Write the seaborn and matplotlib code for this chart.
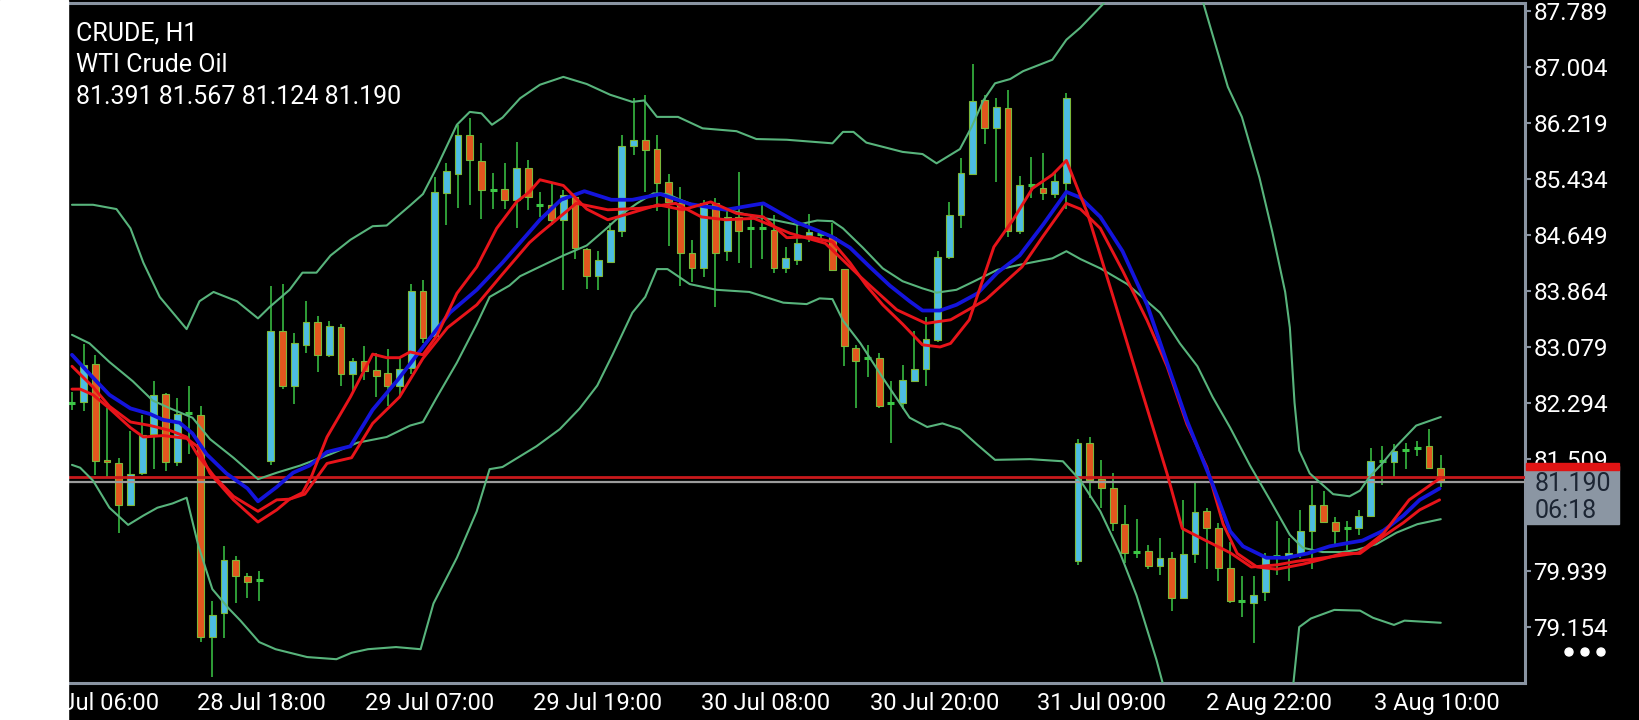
import numpy as np
import pandas as pd
import seaborn as sns
import matplotlib.pyplot as plt
from matplotlib.patches import Rectangle, Circle

# ---- data --------------------------------------------------------------
symbol = "CRUDE, H1"
description = "WTI Crude Oil"

opens = [82.29, 82.31, 82.84, 81.50, 81.46, 80.87, 81.31, 81.86, 82.42, 81.47,
         82.16, 82.13, 79.02, 79.36, 80.10, 79.87, 79.82, 81.49, 83.31, 82.53,
         83.11, 83.43, 82.97, 83.36, 82.70, 82.89, 82.76, 82.71, 82.54, 82.78,
         83.86, 83.23, 85.23, 85.50, 86.05, 85.68, 85.28, 85.29, 85.13, 85.58,
         85.06, 85.07, 84.85, 85.18, 84.45, 84.08, 84.27, 84.70, 85.89, 85.97,
         85.85, 85.39, 85.09, 84.40, 84.19, 85.09, 84.42, 84.90, 84.75, 84.74,
         84.72, 84.18, 84.30, 84.65, 84.66, 84.62, 84.17, 83.07, 82.92, 82.93,
         82.29, 82.29, 82.61, 82.77, 83.18, 84.34, 84.92, 85.50, 86.53, 86.14,
         86.43, 84.70, 85.35, 85.31, 85.22, 85.38, 80.09, 81.73, 81.23, 81.11,
         80.60, 80.21, 80.23, 80.02, 80.13, 79.57, 80.18, 80.78, 80.55, 79.99,
         79.52, 79.49, 79.65, 80.15, 80.15, 80.19, 80.51, 80.87, 80.63, 80.54,
         80.55, 80.71, 81.49, 81.47, 81.64, 81.67, 81.70, 81.391]
highs = [82.45, 83.12, 82.97, 82.22, 81.52, 81.90, 82.13, 82.60, 82.44, 82.36,
         82.53, 82.25, 79.52, 80.30, 80.16, 79.92, 79.95, 83.94, 83.96, 83.27,
         83.72, 83.51, 83.44, 83.40, 82.93, 83.10, 82.99, 83.05, 82.92, 83.96,
         84.02, 85.46, 85.66, 86.19, 86.29, 85.93, 85.52, 85.65, 85.95, 85.69,
         85.25, 85.36, 85.28, 85.22, 84.47, 84.42, 84.82, 86.05, 86.57, 86.61,
         86.05, 85.50, 85.32, 84.58, 85.14, 85.17, 85.03, 85.53, 84.93, 85.06,
         84.93, 84.48, 84.79, 84.94, 84.70, 84.82, 84.17, 83.11, 83.11, 82.99,
         82.60, 82.83, 83.30, 83.50, 84.42, 85.11, 85.73, 87.04, 86.61, 86.57,
         86.67, 85.47, 85.74, 85.79, 85.54, 86.63, 81.79, 81.82, 81.50, 81.31,
         80.87, 80.67, 80.31, 80.40, 80.21, 80.94, 81.18, 80.83, 80.61, 80.35,
         79.87, 79.87, 80.19, 80.64, 80.40, 80.80, 81.15, 81.07, 80.70, 80.64,
         80.80, 81.66, 81.69, 81.72, 81.74, 81.77, 81.93, 81.567]
lows = [82.20, 82.18, 81.29, 81.26, 80.48, 80.86, 81.29, 81.37, 81.34, 81.42,
        81.58, 78.95, 78.46, 79.01, 79.49, 79.57, 79.52, 81.43, 82.49, 82.28,
        83.00, 82.73, 82.94, 82.54, 82.46, 82.62, 82.38, 82.25, 82.38, 82.70,
        83.13, 83.19, 84.79, 85.02, 85.06, 84.87, 85.01, 85.01, 84.75, 85.00,
        84.90, 84.79, 83.88, 84.31, 83.89, 83.88, 84.26, 84.62, 85.76, 85.25,
        84.98, 84.50, 83.94, 83.99, 84.06, 83.64, 84.28, 84.25, 84.18, 84.31,
        84.12, 84.11, 84.23, 84.55, 84.58, 84.15, 82.81, 82.22, 82.66, 82.23,
        81.74, 82.21, 82.60, 82.53, 83.15, 84.31, 84.74, 85.49, 85.92, 85.39,
        84.62, 84.66, 85.17, 85.14, 85.17, 85.01, 80.03, 80.96, 80.83, 80.51,
        80.06, 80.13, 79.97, 79.89, 79.38, 79.55, 80.05, 79.97, 79.81, 79.49,
        79.30, 78.93, 79.52, 79.89, 79.81, 80.13, 79.97, 80.62, 80.32, 80.24,
        80.45, 80.70, 81.15, 81.26, 81.37, 81.55, 81.37, 81.124]
closes = [82.29, 82.83, 81.49, 81.47, 80.87, 81.30, 81.85, 82.41, 81.47, 82.14,
          82.16, 79.02, 79.33, 80.10, 79.87, 79.79, 79.82, 83.31, 82.53, 83.13,
          83.43, 82.97, 83.37, 82.70, 82.89, 82.75, 82.68, 82.54, 82.77, 83.86,
          83.20, 85.25, 85.54, 86.05, 85.69, 85.28, 85.28, 85.14, 85.58, 85.18,
          85.06, 84.85, 85.20, 84.46, 84.08, 84.30, 84.72, 85.89, 85.98, 85.83,
          85.38, 85.11, 84.40, 84.18, 85.10, 84.40, 84.90, 84.71, 84.75, 84.74,
          84.18, 84.32, 84.54, 84.69, 84.66, 84.16, 83.09, 82.88, 82.92, 82.26,
          82.29, 82.62, 82.77, 83.19, 84.34, 84.93, 85.52, 86.52, 86.15, 86.44,
          84.70, 85.35, 85.35, 85.23, 85.40, 86.57, 81.74, 81.22, 81.11, 80.62,
          80.20, 80.21, 80.01, 80.12, 79.57, 80.18, 80.77, 80.55, 79.99, 79.53,
          79.52, 79.61, 80.15, 80.15, 80.20, 80.50, 80.87, 80.63, 80.51, 80.54,
          80.71, 81.49, 81.49, 81.63, 81.64, 81.67, 81.38, 81.190]

# indicator lines as (bar, price) readings
bb_upper = [(0, 85.07), (1.8, 85.07), (3.8, 85.01), (5.0, 84.74), (6.1, 84.26),
            (7.5, 83.78), (9.8, 83.33), (10.9, 83.72), (12.1, 83.85), (14.1, 83.72),
            (15.9, 83.48), (16.9, 83.64), (18.6, 83.88), (19.7, 84.12), (20.9, 84.12),
            (22.1, 84.36), (23.8, 84.58), (25.7, 84.77), (26.9, 84.78), (28.9, 85.06),
            (30.0, 85.22), (31.2, 85.60), (32.9, 86.19), (34.0, 86.37), (35.0, 86.35),
            (35.9, 86.19), (36.8, 86.29), (38.3, 86.56), (40.0, 86.75), (42.0, 86.86),
            (44.0, 86.76), (46.0, 86.61), (47.9, 86.51), (48.9, 86.53), (50.0, 86.30),
            (51.8, 86.30), (53.9, 86.14), (56.8, 86.10), (58.5, 85.99), (61.1, 85.98),
            (65.0, 85.93), (65.9, 86.09), (66.8, 86.09), (67.9, 85.94), (71.0, 85.81),
            (72.7, 85.78), (73.9, 85.65), (75.9, 85.85), (76.9, 86.16), (77.9, 86.53),
            (78.9, 86.77), (80.2, 86.83), (81.3, 86.94), (83.8, 87.10), (85.0, 87.38),
            (86.2, 87.55), (88.2, 87.89), (91.0, 88.6), (95.0, 88.8), (96.6, 87.95),
            (98.8, 86.72), (100.0, 86.30), (101.5, 85.45), (102.6, 84.69), (103.7, 83.85),
            (104.1, 83.35), (104.5, 82.30), (104.9, 81.63), (105.8, 81.31), (107.8, 81.02),
            (109.2, 80.99), (110.1, 81.07), (110.9, 81.26), (112.0, 81.45), (113.2, 81.69),
            (114.9, 81.98), (117.0, 82.10)]
bb_middle = [(0, 83.25), (1.5, 83.13), (3.2, 82.87), (5.2, 82.60), (6.9, 82.33),
             (8.4, 82.22), (10.3, 82.09), (11.8, 81.79), (13.8, 81.53), (15.9, 81.23),
             (17.5, 81.32), (19.5, 81.42), (22.1, 81.58), (24.4, 81.74), (26.9, 81.82),
             (28.9, 81.98), (30.0, 82.03), (31.2, 82.38), (32.9, 82.86), (34.6, 83.40),
             (35.7, 83.78), (37.4, 83.94), (38.3, 84.07), (39.7, 84.18), (42.0, 84.36),
             (44.0, 84.50), (45.7, 84.74), (47.1, 84.95), (48.3, 85.09), (49.7, 85.23),
             (50.9, 85.22), (52.0, 85.14), (53.1, 85.07), (55.4, 85.03), (57.7, 84.93),
             (59.9, 84.86), (62.0, 84.79), (63.7, 84.85), (65.0, 84.84), (65.9, 84.74),
             (67.6, 84.47), (69.3, 84.18), (71.0, 84.00), (72.7, 83.90), (73.9, 83.84),
             (75.6, 83.88), (77.0, 83.99), (79.1, 84.16), (81.0, 84.23), (83.8, 84.32),
             (85.0, 84.42), (86.2, 84.31), (87.9, 84.18), (90.2, 83.96), (93.0, 83.56),
             (94.7, 83.13), (96.2, 82.81), (97.5, 82.38), (99.0, 81.95), (100.7, 81.42),
             (102.4, 80.94), (104.1, 80.45), (105.2, 80.27), (106.9, 80.21), (108.6, 80.21),
             (109.8, 80.24), (111.5, 80.32), (113.2, 80.48), (115.0, 80.60), (117.0, 80.67)]
bb_lower = [(0, 81.43), (0.7, 81.39), (1.8, 81.21), (3.2, 80.83), (4.8, 80.59),
            (6.1, 80.72), (7.3, 80.83), (8.6, 80.89), (9.8, 80.97), (10.8, 80.30),
            (12.0, 79.69), (13.4, 79.42), (14.4, 79.25), (16.0, 78.95), (17.4, 78.85),
            (20.1, 78.74), (22.6, 78.71), (23.9, 78.80), (25.3, 78.85), (27.7, 78.88),
            (29.8, 78.85), (30.9, 79.49), (32.9, 80.13), (34.6, 80.78), (35.7, 81.37),
            (36.8, 81.40), (38.3, 81.55), (39.7, 81.69), (41.7, 81.93), (43.4, 82.22),
            (44.9, 82.54), (46.2, 82.97), (47.9, 83.56), (49.0, 83.78), (50.0, 84.17),
            (50.9, 84.17), (52.8, 83.96), (55.1, 83.88), (57.9, 83.85), (60.8, 83.70),
            (62.8, 83.68), (63.9, 83.76), (65.0, 83.75), (65.9, 83.45), (67.4, 83.13),
            (69.3, 82.65), (71.6, 82.09), (73.1, 81.96), (74.4, 82.01), (75.9, 81.93),
            (77.4, 81.71), (78.9, 81.50), (81.9, 81.51), (84.7, 81.48), (86.2, 81.21),
            (87.9, 80.78), (89.6, 80.19), (91.0, 79.60), (92.7, 78.70), (94.5, 77.6),
            (103.5, 77.4), (104.4, 78.37), (104.9, 79.16), (105.9, 79.28), (107.9, 79.40),
            (110.1, 79.39), (111.2, 79.29), (113.0, 79.19), (113.9, 79.25), (117.0, 79.22)]
ma_blue = [(0, 82.97), (1.8, 82.65), (3.2, 82.41), (5.0, 82.22), (6.7, 82.14),
           (7.8, 82.06), (9.2, 82.02), (10.3, 81.87), (11.5, 81.58), (13.2, 81.31),
           (15.0, 81.10), (15.9, 80.92), (17.5, 81.12), (18.9, 81.32), (20.3, 81.42),
           (21.8, 81.61), (23.8, 81.69), (25.7, 82.20), (28.0, 82.65), (30.0, 83.08),
           (32.3, 83.56), (34.6, 83.88), (36.8, 84.26), (39.1, 84.69), (40.0, 84.86),
           (41.8, 85.14), (43.8, 85.26), (46.1, 85.14), (47.9, 85.14), (50.3, 85.22),
           (52.8, 85.08), (55.9, 85.00), (59.1, 85.09), (62.0, 84.82), (63.7, 84.71),
           (65.0, 84.62), (66.5, 84.47), (68.2, 84.20), (69.9, 83.94), (71.6, 83.72),
           (72.7, 83.59), (74.2, 83.59), (75.6, 83.67), (77.4, 83.83), (79.1, 84.12),
           (81.0, 84.36), (83.0, 84.79), (85.0, 85.25), (86.2, 85.17), (87.9, 84.90),
           (89.8, 84.42), (91.9, 83.67), (93.6, 82.86), (95.3, 82.05), (97.4, 81.20),
           (99.0, 80.50), (100.1, 80.29), (102.1, 80.13), (103.8, 80.13), (105.6, 80.19),
           (107.5, 80.29), (109.2, 80.34), (110.3, 80.37), (112.1, 80.51), (113.8, 80.72),
           (115.2, 80.94), (116.9, 81.10)]
ma_red_slow = [(0, 82.81), (1.8, 82.52), (3.2, 82.25), (5.0, 82.03), (6.7, 81.98),
               (8.4, 81.91), (9.8, 81.82), (10.7, 81.58), (12.1, 81.28), (13.8, 80.99),
               (15.9, 80.78), (17.5, 80.94), (18.6, 80.95), (19.9, 81.02), (21.8, 81.45),
               (23.9, 81.53), (25.7, 82.01), (28.0, 82.38), (30.0, 82.92), (32.1, 83.35),
               (34.6, 83.67), (36.8, 84.10), (39.1, 84.54), (40.0, 84.67), (43.1, 85.09),
               (45.8, 85.00), (48.5, 85.02), (51.6, 85.09), (53.8, 84.90), (55.9, 84.86),
               (58.3, 84.88), (61.4, 84.67), (64.4, 84.53), (67.4, 84.06), (70.5, 83.60),
               (73.0, 83.41), (75.1, 83.46), (78.1, 83.74), (81.2, 84.20), (83.0, 84.63),
               (85.0, 85.09), (86.2, 85.01), (87.9, 84.74), (89.8, 84.15), (91.9, 83.45),
               (93.6, 82.81), (95.3, 82.00), (97.0, 81.40), (98.4, 80.60), (99.6, 80.19),
               (101.3, 80.00), (103.0, 79.97), (105.2, 80.04), (106.9, 80.11), (108.6, 80.19),
               (110.1, 80.19), (112.1, 80.43), (113.8, 80.62), (115.2, 80.80), (116.9, 80.94)]
ma_red_fast = [(0, 82.49), (0.7, 82.49), (1.8, 82.41), (3.2, 82.22), (5.0, 81.95),
               (6.1, 81.82), (7.8, 81.84), (9.8, 81.80), (10.7, 81.69), (11.8, 81.31),
               (13.8, 80.94), (15.9, 80.63), (17.5, 80.80), (18.6, 80.95), (19.7, 81.04),
               (20.5, 81.28), (21.8, 81.82), (23.8, 82.38), (25.7, 82.98), (26.9, 82.93),
               (28.0, 82.93), (28.9, 83.01), (30.0, 82.97), (31.2, 83.24), (32.9, 83.83),
               (34.6, 84.20), (36.3, 84.74), (38.0, 85.11), (39.1, 85.25), (40.0, 85.42),
               (42.0, 85.34), (44.0, 85.01), (45.8, 84.86), (47.7, 84.95), (50.1, 85.07),
               (52.2, 85.00), (54.6, 85.11), (56.8, 84.95), (59.1, 84.90), (61.1, 84.61),
               (63.1, 84.62), (65.0, 84.55), (66.5, 84.26), (67.9, 83.94), (69.3, 83.67),
               (71.0, 83.40), (72.7, 83.11), (74.2, 83.08), (75.1, 83.13), (76.7, 83.46),
               (78.8, 84.48), (80.4, 84.85), (82.1, 85.30), (83.8, 85.49), (85.0, 85.69),
               (86.8, 84.95), (89.0, 83.78), (91.3, 82.54), (93.6, 81.31), (94.9, 80.54),
               (96.8, 80.38), (99.0, 80.20), (100.8, 80.00), (103.0, 80.03), (104.7, 80.08),
               (107.5, 80.14), (110.0, 80.20), (112.1, 80.47), (114.3, 80.94), (117.0, 81.25)]

bid = 81.190
ask = 81.26
time_left = "06:18"

# 80.724 sits under the price box in the app, so it is not labelled
price_ticks = [87.789, 87.004, 86.219, 85.434, 84.649, 83.864, 83.079,
               82.294, 81.509, 79.939, 79.154]
time_labels = ["28 Jul 06:00", "28 Jul 18:00", "29 Jul 07:00", "29 Jul 19:00",
               "30 Jul 08:00", "30 Jul 20:00", "31 Jul 09:00", "2 Aug 22:00",
               "3 Aug 10:00"]
time_bars = [1.9, 16.2, 30.6, 44.9, 59.3, 73.7, 88.0, 102.3, 116.7]

# ---- style ---------------------------------------------------------------
sns.set_style("dark", {"axes.facecolor": "black", "figure.facecolor": "black"})
plt.rcParams["font.family"] = ["Roboto", "DejaVu Sans"]

BULL = "#4cbce2"
BEAR = "#e2561e"
WICK = "#3cc846"
EDGE = "#7cb83a"
BAND = "#58b47c"
FRAME = "#8a94a2"

W, H = 1640, 720
fig = plt.figure(figsize=(W / 100, H / 100), dpi=100, facecolor="black")
ax = fig.add_axes([68 / W, 37 / H, 1457 / W, 680 / H])
ax.set_facecolor("black")

candles = pd.DataFrame({"open": opens, "high": highs, "low": lows, "close": closes})
candles["bar"] = np.arange(len(candles))
up = candles[candles.close > candles.open]
down = candles[candles.close < candles.open]
flat = candles[candles.close == candles.open]

ax.vlines(candles.bar, candles.low, candles.high, color=WICK, lw=1.1, zorder=2)
ax.bar(up.bar, up.close - up.open, bottom=up.open, width=0.58,
       color=BULL, edgecolor=EDGE, lw=0.8, zorder=3)
ax.bar(down.bar, down.open - down.close, bottom=down.close, width=0.58,
       color=BEAR, edgecolor=EDGE, lw=0.8, zorder=3)
ax.hlines(flat.open, flat.bar - 0.3, flat.bar + 0.3, color=WICK, lw=2.2, zorder=3)

ax.axhline(ask, color="#c8191c", lw=2.0, zorder=4)
ax.axhline(bid, color="#9c9c9c", lw=1.6, zorder=4)

lines = [(bb_upper, BAND, 1.5), (bb_middle, BAND, 1.5), (bb_lower, BAND, 1.5),
         (ma_red_slow, "#e8141a", 2.1), (ma_blue, "#1414dc", 2.7),
         (ma_red_fast, "#e8141a", 2.1)]
for pts, col, lw in lines:
    df = pd.DataFrame(pts, columns=["bar", "price"])
    sns.lineplot(data=df, x="bar", y="price", ax=ax, color=col, lw=lw,
                 sort=False, estimator=None, zorder=5)

ax.set_xlim(-0.34, 124.2)
ax.set_ylim(78.377, 87.894)
ax.set_xlabel("")
ax.set_ylabel("")
ax.grid(False)

for side in ["top", "right", "bottom"]:
    ax.spines[side].set_color(FRAME)
    ax.spines[side].set_linewidth(2.2)
    ax.spines[side].set_visible(True)
ax.spines["left"].set_visible(False)

ax.yaxis.tick_right()
ax.set_yticks(price_ticks, [f"{p:.3f}" for p in price_ticks])
ax.set_xticks(time_bars, time_labels)
ax.tick_params(axis="y", colors=FRAME, labelcolor="white", labelsize=17.5,
               length=4.5, width=1.5, pad=1.5, left=False, right=True)
ax.tick_params(axis="x", colors=FRAME, labelcolor="white", labelsize=17,
               length=4, width=1.5, pad=2.5)

# ---- overlay in pixel units: margin strip, header, price box ---------------
ov = fig.add_axes([0, 0, 1, 1], zorder=10)
ov.set_xlim(0, W)
ov.set_ylim(H, 0)
ov.axis("off")
ov.patch.set_alpha(0)

ov.add_patch(Rectangle((0, 0), 68, H, color="white"))
header = [symbol, description,
          f"{opens[-1]:.3f} {highs[-1]:.3f} {lows[-1]:.3f} {closes[-1]:.3f}"]
for k, line in enumerate(header):
    ov.text(76, 34 + 31.5 * k, line, color="white", fontsize=18, va="center")

ov.add_patch(Rectangle((1526, 466), 93, 58, color="#8b96a3"))
ov.add_patch(Rectangle((1526, 463), 93, 7, color="#e01414"))
ov.text(1535, 484, f"{bid:.3f}", color="#1c2533", fontsize=18, va="center")
ov.text(1535, 511, time_left, color="#1c2533", fontsize=18, va="center")

for cx in (1569, 1585, 1601):
    ov.add_patch(Circle((cx, 652), 4, color="white"))

fig.savefig("out.png", dpi=100, facecolor="black")
